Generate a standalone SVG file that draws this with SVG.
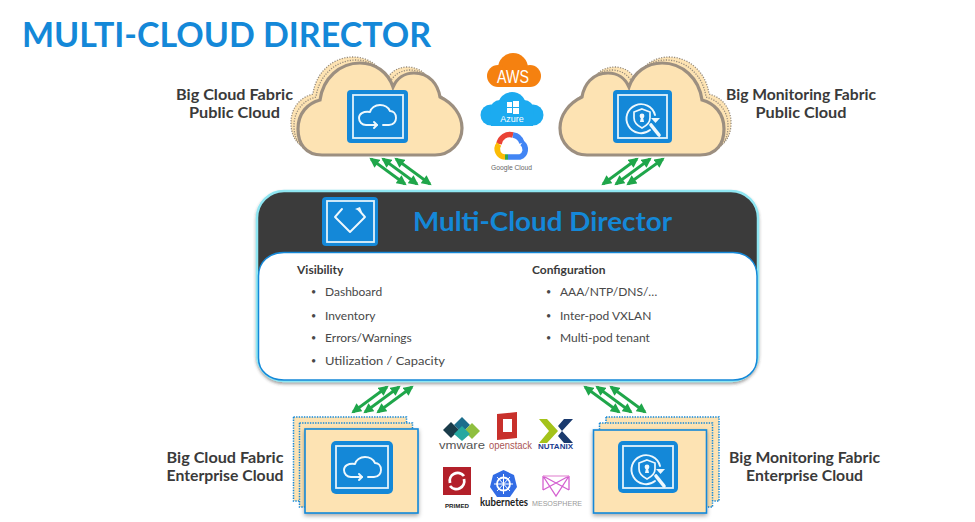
<svg xmlns="http://www.w3.org/2000/svg" width="975" height="522" viewBox="0 0 975 522">
<style>
text{font-family:"Lato","Liberation Sans",sans-serif}
.lbl{font-size:15.5px;font-weight:700;fill:#3a3a3a;text-anchor:middle}
.item{font-size:12px;fill:#484848}
.bul{font-size:9px;fill:#484848}
.head{font-size:12px;font-weight:700;fill:#3a3a3a}
.cl{fill:#fde3b3;stroke:#9c8f80;stroke-width:3.2}
.cld{fill:#fde3b3;stroke:#968b7c;stroke-width:1.3;stroke-dasharray:1.2 1.4}
.box{fill:#1488d8}
.inner{fill:none;stroke:#e2f2fb;stroke-width:1.8}
.gl{fill:none;stroke:#eef8fd;stroke-width:1.9;stroke-linecap:round;stroke-linejoin:round}
.ar{stroke:#1fa64a;stroke-width:2.800;fill:none;marker-start:url(#ah);marker-end:url(#ah)}
.st{fill:#fde3b3;stroke:#1488d8;stroke-width:1.5;stroke-dasharray:1.4 1.2}
.fr{fill:#fde3b3;stroke:#1488d8;stroke-width:1.6;filter:url(#sh)}
.logo{font-family:"Liberation Sans",sans-serif}
</style>
<defs>
<marker id="ah" viewBox="0 0 10 10" refX="8" refY="5" markerUnits="userSpaceOnUse" markerWidth="11" markerHeight="10" orient="auto-start-reverse"><path d="M0,0L10,5L0,10Z" fill="#1fa64a"/></marker>
<filter id="sh" x="-10%" y="-10%" width="120%" height="125%"><feDropShadow dx="0" dy="2" stdDeviation="2" flood-color="#000" flood-opacity=".35"/></filter>
<filter id="glow" x="-5%" y="-5%" width="110%" height="112%"><feDropShadow dx="0" dy="2" stdDeviation="1.5" flood-color="#333" flood-opacity=".45"/></filter>
<path id="cloud" d="M322,155C305,155 298,143 298,129C298,113 308,103 320,100C323,78 340,63 360,63C375,63 388,72 393,87C397,78 405,73 414,73C430,73 438,85 440,97C453,103 462,115 462,128C462,143 450,155 435,155Z"/>
<g id="gCloud">
<path class="gl" d="M36,35H42C47,35 49,31 49,28C49,23 46,21 43,21C41,17 37,15 33,15C28,15 24,18 23,22C16,21 12,24 12,28C12,32 15,35 19,35H30"/>
<path class="gl" d="M27,32L30,35L27,38"/>
</g>
<g id="gSec">
<path class="gl" d="M42,23A14.500,14.500 0 1 0 37,38"/>
<path d="M29,17L37,20V26C37,31 33,34 29,36C25,34 21,31 21,26V20Z" fill="none" stroke="#eef8fd" stroke-width="1.7"/>
<circle cx="29" cy="24" r="2.400" fill="#eef8fd"/><path d="M28,25H30L31,30H27Z" fill="#eef8fd"/>
<path d="M38,33L46,43" stroke="#eef8fd" stroke-width="3.600" fill="none" stroke-linecap="round"/>
<path d="M38,26H47L42.500,31Z" fill="#eef8fd"/>
</g>
</defs>
<rect width="975" height="522" fill="#fff"/>
<text id="title" x="22" y="47" font-size="34" font-weight="700" fill="#1488d8" textLength="409" lengthAdjust="spacingAndGlyphs">MULTI-CLOUD DIRECTOR</text>

<g id="bcf-public">
<use href="#cloud" class="cld" transform="translate(-7,-6)"/>
<use href="#cloud" class="cld" transform="translate(-4,-3)"/>
<use href="#cloud" class="cl"/>
<rect class="box" x="347" y="90" width="61" height="53" rx="4"/>
<rect class="inner" x="353" y="95" width="50" height="43"/>
<use href="#gCloud" transform="translate(347,90)"/>
<text class="lbl" x="234.500" y="100" textLength="117" lengthAdjust="spacingAndGlyphs">Big Cloud Fabric</text>
<text class="lbl" x="234.500" y="118" textLength="91" lengthAdjust="spacingAndGlyphs">Public Cloud</text>
</g>

<g id="bmf-public">
<use href="#cloud" class="cld" transform="translate(1029,-6) scale(-1,1)"/>
<use href="#cloud" class="cld" transform="translate(1026,-3) scale(-1,1)"/>
<use href="#cloud" class="cl" transform="translate(1022,0) scale(-1,1)"/>
<rect class="box" x="613" y="90" width="59" height="53" rx="4"/>
<rect class="inner" x="618" y="95" width="49" height="43"/>
<use href="#gSec" transform="translate(613,92)"/>
<text class="lbl" x="801" y="100" textLength="150" lengthAdjust="spacingAndGlyphs">Big Monitoring Fabric</text>
<text class="lbl" x="801" y="118" textLength="91" lengthAdjust="spacingAndGlyphs">Public Cloud</text>
</g>

<g id="public-logos">
<g fill="#f58110"><circle cx="513" cy="68" r="15"/><circle cx="498" cy="76" r="11"/><circle cx="530" cy="76" r="11"/><rect x="498" y="72" width="32" height="15"/></g>
<text class="logo" x="513" y="83" font-size="18" fill="#fff" text-anchor="middle" textLength="32" lengthAdjust="spacingAndGlyphs">AWS</text>
<g fill="#1cabf0"><circle cx="512" cy="106" r="14"/><circle cx="491" cy="115" r="10.500"/><circle cx="533" cy="115" r="10.500"/><circle cx="500" cy="110" r="10"/><circle cx="524" cy="110" r="10"/><rect x="491" y="112" width="42" height="14"/></g>
<g fill="#fff"><rect x="507" y="102" width="5" height="5"/><rect x="513" y="101" width="6" height="6"/><rect x="507" y="108" width="5" height="5"/><rect x="513" y="108" width="6" height="6"/></g>
<text class="logo" x="512" y="122" font-size="9" fill="#fff" text-anchor="middle">Azure</text>
<g fill="none" stroke-width="5.500">
<path d="M499,144A11,11 0 0 1 513,135" stroke="#ea4335"/>
<path d="M513,135A11,11 0 0 1 522,143" stroke="#4285f4"/>
<path d="M522,143A8,8 0 0 1 520,157H508" stroke="#4285f4"/>
<path d="M508,157H505" stroke="#34a853"/>
<path d="M505,157A8,8 0 0 1 499,144" stroke="#fbbc05"/>
</g>
<text class="logo" x="511.500" y="170" font-size="7" fill="#666" text-anchor="middle" textLength="41" lengthAdjust="spacingAndGlyphs">Google Cloud</text>
</g>

<g id="director">
<rect x="257" y="191" width="501" height="190" rx="27" fill="#3b3b3b" stroke="#8fe6f2" stroke-width="2.500" filter="url(#glow)"/>
<path d="M258.500,276C258.500,262 269,252.500 284,252.500H733C747,252.500 757,262 757,276V358C757,371 747,380 733,380H284C269,380 258.500,371 258.500,358Z" fill="#fff" stroke="#1488d8" stroke-width="1.500"/>
<rect class="box" x="322" y="197" width="56" height="49" rx="4"/>
<rect class="inner" x="327" y="201" width="47" height="41"/>
<path class="gl" d="M342,209L335,217L350,232L365,217L358,209" stroke-width="2.200"/>
<path d="M355,209L360,207L362,212Z" fill="#eef8fd"/>
<text x="413" y="231" font-size="26" font-weight="700" fill="#1488d8" textLength="259" lengthAdjust="spacingAndGlyphs">Multi-Cloud Director</text>
<text class="head" x="297" y="274">Visibility</text>
<g>
<text class="bul" x="311" y="295">•</text><text class="item" x="325" y="296">Dashboard</text>
<text class="bul" x="311" y="319">•</text><text class="item" x="325" y="320">Inventory</text>
<text class="bul" x="311" y="341">•</text><text class="item" x="325" y="342">Errors/Warnings</text>
<text class="bul" x="311" y="364">•</text><text class="item" x="325" y="365" textLength="120" lengthAdjust="spacingAndGlyphs">Utilization / Capacity</text>
</g>
<text class="head" x="532" y="274">Configuration</text>
<g>
<text class="bul" x="546" y="295">•</text><text class="item" x="560" y="296">AAA/NTP/DNS/…</text>
<text class="bul" x="546" y="319">•</text><text class="item" x="560" y="320">Inter-pod VXLAN</text>
<text class="bul" x="546" y="341">•</text><text class="item" x="560" y="342">Multi-pod tenant</text>
</g>
</g>

<g id="bcf-enterprise">
<rect class="st" x="293.500" y="417" width="113" height="84"/>
<rect class="st" x="299.500" y="423" width="113" height="84"/>
<rect class="fr" x="305" y="429" width="113" height="84"/>
<rect class="box" x="331" y="441" width="62" height="53" rx="5"/>
<rect class="inner" x="336" y="446" width="52" height="42"/>
<use href="#gCloud" transform="translate(332,442)"/>
<text class="lbl" x="225" y="463" textLength="117" lengthAdjust="spacingAndGlyphs">Big Cloud Fabric</text>
<text class="lbl" x="225" y="481" textLength="117" lengthAdjust="spacingAndGlyphs">Enterprise Cloud</text>
</g>

<g id="bmf-enterprise">
<rect class="st" x="606" y="417" width="113" height="84"/>
<rect class="st" x="599.500" y="423" width="113" height="84"/>
<rect class="fr" x="593.500" y="430" width="113" height="83"/>
<rect class="box" x="618" y="441" width="60" height="52" rx="5"/>
<rect class="inner" x="623" y="446" width="50" height="42"/>
<use href="#gSec" transform="translate(618,443)"/>
<text class="lbl" x="804.500" y="463" textLength="151" lengthAdjust="spacingAndGlyphs">Big Monitoring Fabric</text>
<text class="lbl" x="804.500" y="481" textLength="117" lengthAdjust="spacingAndGlyphs">Enterprise Cloud</text>
</g>

<g id="enterprise-logos">
<g>
<polygon points="462,417 470,425 462,433 454,425" fill="#1c6e8c"/>
<polygon points="451,422 459,430 451,438 443,430" fill="#1a3c4a"/>
<polygon points="472,423 480,431 472,439 464,431" fill="#8fbf3f"/>
<polygon points="462,426 470,434 462,441 454,434" fill="#25a8a0"/>
</g>
<text class="logo" x="462" y="449" font-size="11" fill="#555" text-anchor="middle" textLength="46" lengthAdjust="spacingAndGlyphs">vmware</text>
<path d="M497,414L517,412V438L497,440Z" fill="#c8302b"/><rect x="503" y="419" width="9" height="13" fill="#fff"/>
<text class="logo" x="510.500" y="449" font-size="10" fill="#a55" text-anchor="middle" textLength="43" lengthAdjust="spacingAndGlyphs">openstack</text>
<path d="M539,419H547L558,431L547,443H539L549,431Z" fill="#a4c31a"/>
<path d="M573,419H564L558,426L562,431ZM573,443H564L558,436L562,431Z" fill="#1a3a6e"/>
<text class="logo" x="555.500" y="449" font-size="7" font-weight="700" fill="#1a3a8e" text-anchor="middle" textLength="35" lengthAdjust="spacingAndGlyphs">NUTANIX</text>
<rect x="443" y="467" width="28" height="28" fill="#b3202a"/>
<path d="M450,483A8,8 0 0 1 464,476M464,479A8,8 0 0 1 450,486" fill="none" stroke="#fff" stroke-width="2.800"/>
<text class="logo" x="457" y="508" font-size="6" font-weight="700" fill="#222" text-anchor="middle" textLength="24" lengthAdjust="spacingAndGlyphs">PRIMED</text>
<polygon points="503.500,470 514,475 517,487 510,497 497,497 490,487 493,475" fill="#326ce5"/>
<circle cx="503.500" cy="484" r="6.500" fill="none" stroke="#fff" stroke-width="1.800"/>
<path d="M503.500,474V494M494,484H513M497,477L510,491M510,477L497,491" stroke="#fff" stroke-width="1"/>
<text x="504" y="506" font-size="10.500" font-weight="700" fill="#222" text-anchor="middle" textLength="48" lengthAdjust="spacingAndGlyphs">kubernetes</text>
<path d="M543,476V490M569,476V490M543,476L556,496L569,476M543,476L569,490M569,476L543,490" fill="none" stroke="#d45fd0" stroke-width="1.300"/>
<path d="M543,476H569" stroke="#e79ad8" stroke-width="1.300"/>
<text class="logo" x="557" y="506" font-size="8" fill="#999" text-anchor="middle" textLength="50" lengthAdjust="spacingAndGlyphs">MESOSPHERE</text>
</g>

<g id="connectors">
<path class="ar" d="M371,159L405,184"/><path class="ar" d="M383,159L417,184"/><path class="ar" d="M396,159L430,184"/>
<path class="ar" d="M637,159L603,184"/><path class="ar" d="M650,159L616,184"/><path class="ar" d="M663,159L628,184"/>
<path class="ar" d="M387,387L353,412"/><path class="ar" d="M399,387L365,412"/><path class="ar" d="M412,387L378,412"/>
<path class="ar" d="M585,387L619,412"/><path class="ar" d="M597,387L631,412"/><path class="ar" d="M611,387L645,412"/>
</g>
</svg>
